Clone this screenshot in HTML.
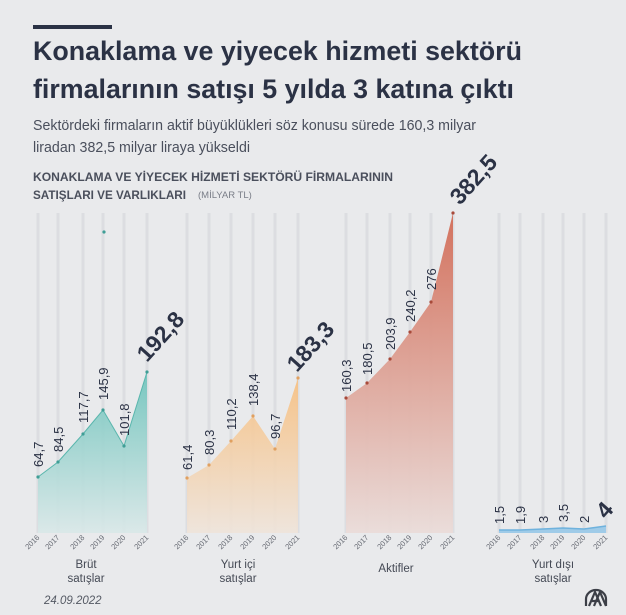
<!DOCTYPE html>
<html><head><meta charset="utf-8"><style>
html,body{margin:0;padding:0;background:#e9eaec;}
svg{display:block;font-family:"Liberation Sans",sans-serif;}
</style></head><body>
<svg width="626" height="615" viewBox="0 0 626 615" xmlns="http://www.w3.org/2000/svg">
<defs>
<linearGradient id="gt" x1="0" y1="0" x2="0" y2="1"><stop offset="0" stop-color="#6cc3bb"/><stop offset="1" stop-color="#d9e8e8"/></linearGradient>
<linearGradient id="go" x1="0" y1="0" x2="0" y2="1"><stop offset="0" stop-color="#f7bf7f"/><stop offset="1" stop-color="#efe4da"/></linearGradient>
<linearGradient id="gr" x1="0" y1="0" x2="0" y2="1"><stop offset="0" stop-color="#d26c57"/><stop offset="1" stop-color="#eadcd9"/></linearGradient>
</defs>
<rect width="626" height="615" fill="#e9eaec"/>
<rect x="33" y="25" width="79" height="4" fill="#2b3245"/>
<text x="33" y="60" font-size="27" font-weight="bold" fill="#2b3245" textLength="489" lengthAdjust="spacingAndGlyphs">Konaklama ve yiyecek hizmeti sektörü</text>
<text x="33" y="98" font-size="27" font-weight="bold" fill="#2b3245" textLength="481" lengthAdjust="spacingAndGlyphs">firmalarının satışı 5 yılda 3 katına çıktı</text>
<text x="33" y="130" font-size="15" fill="#4a4f5c" textLength="443" lengthAdjust="spacingAndGlyphs">Sektördeki firmaların aktif büyüklükleri söz konusu sürede 160,3 milyar</text>
<text x="33" y="152" font-size="15" fill="#4a4f5c" textLength="217" lengthAdjust="spacingAndGlyphs">liradan 382,5 milyar liraya yükseldi</text>
<text x="33" y="181" font-size="11.5" font-weight="bold" fill="#4a4f5c" textLength="360" lengthAdjust="spacingAndGlyphs">KONAKLAMA VE YİYECEK HİZMETİ SEKTÖRÜ FİRMALARININ</text>
<text x="33" y="199" font-size="11.5" font-weight="bold" fill="#4a4f5c" textLength="153" lengthAdjust="spacingAndGlyphs">SATIŞLARI VE VARLIKLARI</text>
<text x="198" y="198" font-size="9.5" fill="#7a7e88">(MİLYAR TL)</text>

<g stroke="#dcdde1" stroke-width="3">
<line x1="38" y1="213" x2="38" y2="533"/><line x1="58" y1="213" x2="58" y2="533"/><line x1="83" y1="213" x2="83" y2="533"/><line x1="103" y1="213" x2="103" y2="533"/><line x1="124" y1="213" x2="124" y2="533"/><line x1="147" y1="213" x2="147" y2="533"/>
<line x1="187" y1="213" x2="187" y2="533"/><line x1="209" y1="213" x2="209" y2="533"/><line x1="231" y1="213" x2="231" y2="533"/><line x1="253" y1="213" x2="253" y2="533"/><line x1="275" y1="213" x2="275" y2="533"/><line x1="298" y1="213" x2="298" y2="533"/>
<line x1="346" y1="213" x2="346" y2="533"/><line x1="367" y1="213" x2="367" y2="533"/><line x1="390" y1="213" x2="390" y2="533"/><line x1="410" y1="213" x2="410" y2="533"/><line x1="431" y1="213" x2="431" y2="533"/><line x1="453" y1="213" x2="453" y2="533"/>
<line x1="499" y1="213" x2="499" y2="533"/><line x1="520" y1="213" x2="520" y2="533"/><line x1="543" y1="213" x2="543" y2="533"/><line x1="563" y1="213" x2="563" y2="533"/><line x1="584" y1="213" x2="584" y2="533"/><line x1="606" y1="213" x2="606" y2="533"/>
</g>

<polygon points="38,533 38,477 58,462 83,434 103,410 124,446 147,372 147,533" fill="url(#gt)" opacity="0.9"/>
<polyline points="38,477 58,462 83,434 103,410 124,446 147,372" fill="none" stroke="#5ab6ad" stroke-width="1"/>
<polygon points="187,533 187,478 209,465 231,441 253,416 275,449 298,378 298,533" fill="url(#go)" opacity="0.9"/>
<polygon points="346,533 346,398 367,383 390,359 410,332 431,302 453,213 453,533" fill="url(#gr)" opacity="0.95"/>
<polygon points="499,533 499,530 520,530 543,529 563,528 584,529 606,526 606,533" fill="#9fcbe8"/>
<polyline points="499,530 520,530 543,529 563,528 584,529 606,526" fill="none" stroke="#6fb2dd" stroke-width="1.5"/>

<g fill="#3f9e96"><circle cx="38" cy="477" r="1.6"/><circle cx="58" cy="462" r="1.6"/><circle cx="83" cy="434" r="1.6"/><circle cx="103" cy="410" r="1.6"/><circle cx="124" cy="446" r="1.6"/><circle cx="147" cy="372" r="1.6"/><circle cx="104" cy="232" r="1.6"/></g>
<g fill="#e0a060"><circle cx="187" cy="478" r="1.6"/><circle cx="209" cy="465" r="1.6"/><circle cx="231" cy="441" r="1.6"/><circle cx="253" cy="416" r="1.6"/><circle cx="275" cy="449" r="1.6"/><circle cx="298" cy="378" r="1.6"/></g>
<g fill="#a84a3a"><circle cx="346" cy="398" r="1.6"/><circle cx="367" cy="383" r="1.6"/><circle cx="390" cy="359" r="1.6"/><circle cx="410" cy="332" r="1.6"/><circle cx="431" cy="302" r="1.6"/><circle cx="453" cy="213" r="1.6"/></g>

<g font-size="13" fill="#2b3245">
<text transform="translate(43,467) rotate(-90)">64,7</text>
<text transform="translate(63,452) rotate(-90)">84,5</text>
<text transform="translate(88,423) rotate(-90)">117,7</text>
<text transform="translate(108,400) rotate(-90)">145,9</text>
<text transform="translate(129,436) rotate(-90)">101,8</text>
<text transform="translate(192,470) rotate(-90)">61,4</text>
<text transform="translate(214,455) rotate(-90)">80,3</text>
<text transform="translate(236,430) rotate(-90)">110,2</text>
<text transform="translate(258,406) rotate(-90)">138,4</text>
<text transform="translate(280,439) rotate(-90)">96,7</text>
<text transform="translate(351,392) rotate(-90)">160,3</text>
<text transform="translate(372,375) rotate(-90)">180,5</text>
<text transform="translate(395,350) rotate(-90)">203,9</text>
<text transform="translate(415,322) rotate(-90)">240,2</text>
<text transform="translate(436,290) rotate(-90)">276</text>
<text transform="translate(504,524) rotate(-90)">1,5</text>
<text transform="translate(525,524) rotate(-90)">1,9</text>
<text transform="translate(548,523) rotate(-90)">3</text>
<text transform="translate(568,522) rotate(-90)">3,5</text>
<text transform="translate(589,523) rotate(-90)">2</text>
</g>
<g font-size="23" font-weight="bold" fill="#2b3245">
<text transform="translate(147,363) rotate(-48)">192,8</text>
<text transform="translate(297,373) rotate(-48)">183,3</text>
<text transform="translate(460,206) rotate(-48)">382,5</text>
<text transform="translate(606,520) rotate(-48)">4</text>
</g>

<g font-size="7.5" fill="#666a73" text-anchor="end">
<text transform="translate(40,538) rotate(-45)">2016</text><text transform="translate(60,538) rotate(-45)">2017</text><text transform="translate(85,538) rotate(-45)">2018</text><text transform="translate(105,538) rotate(-45)">2019</text><text transform="translate(126,538) rotate(-45)">2020</text><text transform="translate(149,538) rotate(-45)">2021</text>
<text transform="translate(189,538) rotate(-45)">2016</text><text transform="translate(211,538) rotate(-45)">2017</text><text transform="translate(233,538) rotate(-45)">2018</text><text transform="translate(255,538) rotate(-45)">2019</text><text transform="translate(277,538) rotate(-45)">2020</text><text transform="translate(300,538) rotate(-45)">2021</text>
<text transform="translate(348,538) rotate(-45)">2016</text><text transform="translate(369,538) rotate(-45)">2017</text><text transform="translate(392,538) rotate(-45)">2018</text><text transform="translate(412,538) rotate(-45)">2019</text><text transform="translate(433,538) rotate(-45)">2020</text><text transform="translate(455,538) rotate(-45)">2021</text>
<text transform="translate(501,538) rotate(-45)">2016</text><text transform="translate(522,538) rotate(-45)">2017</text><text transform="translate(545,538) rotate(-45)">2018</text><text transform="translate(565,538) rotate(-45)">2019</text><text transform="translate(586,538) rotate(-45)">2020</text><text transform="translate(608,538) rotate(-45)">2021</text>
</g>

<g font-size="11.5" fill="#444954" text-anchor="middle">
<text x="86" y="568">Brüt</text><text x="86" y="582">satışlar</text>
<text x="238" y="568">Yurt içi</text><text x="238" y="582">satışlar</text>
<text x="396" y="572">Aktifler</text>
<text x="553" y="568">Yurt dışı</text><text x="553" y="582">satışlar</text>
</g>
<text x="44" y="604" font-size="11.5" font-style="italic" fill="#555a64">24.09.2022</text>
<g fill="none" stroke="#3c3f47" stroke-width="2.2">
<path d="M586,606 L586,599 A10,9 0 0 1 606,599 L606,606"/>
<path d="M589,606 L595,592 L601,606 M592,601 L598,601"/>
<path d="M594,606 L600,592 L606,606"/>
</g>
</svg>
</body></html>
